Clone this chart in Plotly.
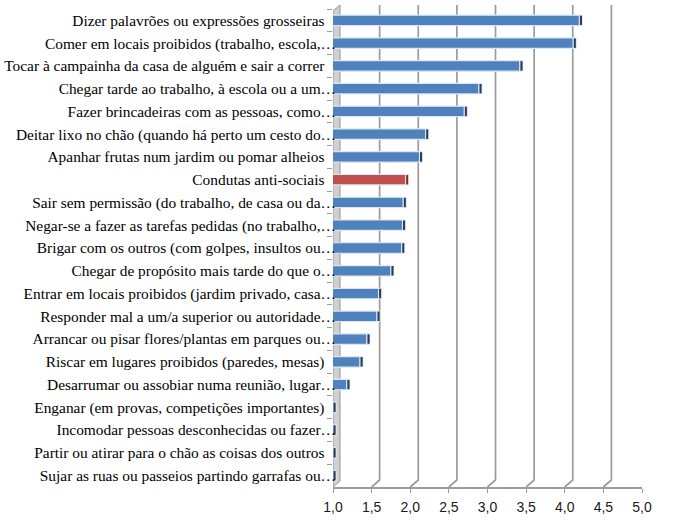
import plotly.graph_objects as go

categories = [
    "Dizer palavrões ou expressões grosseiras",
    "Comer em locais proibidos (trabalho, escola,…",
    "Tocar à campainha da casa de alguém e sair a correr",
    "Chegar tarde ao trabalho, à escola ou a um…",
    "Fazer brincadeiras com as pessoas, como…",
    "Deitar lixo no chão (quando há perto um cesto do…",
    "Apanhar frutas num jardim ou pomar alheios",
    "Condutas anti-sociais",
    "Sair sem permissão (do trabalho, de casa ou da…",
    "Negar-se a fazer as tarefas pedidas (no trabalho,…",
    "Brigar com os outros (com golpes, insultos ou…",
    "Chegar de propósito mais tarde do que o…",
    "Entrar em locais proibidos (jardim privado, casa…",
    "Responder mal a um/a superior ou autoridade…",
    "Arrancar ou pisar flores/plantas em parques ou…",
    "Riscar em lugares proibidos (paredes, mesas)",
    "Desarrumar ou assobiar numa reunião, lugar…",
    "Enganar (em provas, competições importantes)",
    "Incomodar pessoas desconhecidas ou fazer…",
    "Partir ou atirar para o chão as coisas dos outros",
    "Sujar as ruas ou passeios partindo garrafas ou…",
]
values = [4.19, 4.11, 3.42, 2.89, 2.70, 2.20, 2.12, 1.94, 1.91, 1.90, 1.89,
          1.75, 1.59, 1.57, 1.44, 1.35, 1.18, 1.0, 1.0, 1.0, 1.0]
highlight = "Condutas anti-sociais"
tick_values = [1.0, 1.5, 2.0, 2.5, 3.0, 3.5, 4.0, 4.5, 5.0]

# display labels: untruncated labels carry trailing spaces as in the source
labels = [c if c.endswith("…") else c + "\u00a0\u00a0\u00a0\u200b" for c in categories]

face_colors = ["#C0504D" if c == highlight else "#4F81BD" for c in categories]
side_colors = ["#7F2F2D" if c == highlight else "#243F63" for c in categories]

fig = go.Figure()
fig.add_trace(go.Bar(
    y=labels, x=values, orientation="h",
    marker=dict(color=face_colors, line=dict(color="#DCE6F2", width=1.2)),
    width=0.46, showlegend=False,
))
# 3-D side face at the end of each bar
fig.add_trace(go.Bar(
    y=labels, x=[0.04] * len(values), base=values, orientation="h",
    marker=dict(color=side_colors, line=dict(color="#FFFFFF", width=0.8)),
    width=0.46, showlegend=False,
))

shapes = []
# left wall
shapes.append(dict(
    type="path", xref="x", yref="paper", xsizemode="pixel", ysizemode="pixel",
    xanchor=1.0, yanchor=0, path="M0,0 L7,6 L7,482 L0,476 Z",
    fillcolor="#D0D0D0", line=dict(color="#969696", width=1), layer="below",
))
for v in tick_values[1:]:
    shapes.append(dict(
        type="path", xref="x", yref="paper", xsizemode="pixel", ysizemode="pixel",
        xanchor=v, yanchor=0, path="M0,0 L8,7 L8,482",
        line=dict(color="#9C9C9C", width=1.7), layer="below",
    ))

fig.update_layout(
    width=678, height=524,
    margin=dict(l=333, r=36, t=9, b=37),
    paper_bgcolor="white", plot_bgcolor="white",
    separators=",.",
    barmode="overlay",
    hovermode=False,
    shapes=shapes,
    xaxis=dict(
        range=[1, 5], tickvals=tick_values, tickformat=".1f",
        showgrid=False, zeroline=False, automargin=False,
        showline=True, linecolor="#9C9C9C", linewidth=1.5,
        ticks="outside", ticklen=4, tickcolor="#9C9C9C",
        tickfont=dict(family="Liberation Sans", size=14, color="#1A1A1A"),
        ticklabelstandoff=3,
    ),
    yaxis=dict(
        type="category", autorange="reversed", automargin=False,
        showgrid=False, zeroline=False, showline=False,
        ticks="outside", tickson="boundaries", ticklen=5, tickcolor="#9C9C9C",
        tickfont=dict(family="Liberation Serif", size=15.4, color="#000000"),
        ticklabelstandoff=-4,
    ),
)

fig.write_html(
    "out.html",
    config={"displayModeBar": False, "staticPlot": True},
    post_script="document.body.style.margin='0px';",
)
